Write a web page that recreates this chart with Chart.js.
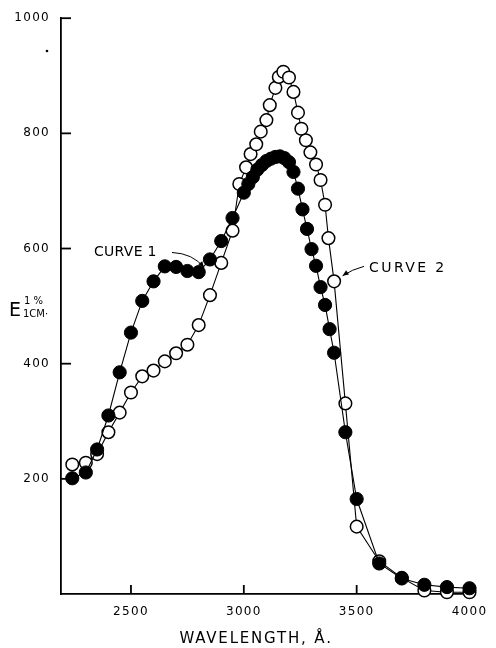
<!DOCTYPE html>
<html><head><meta charset="utf-8">
<script src="https://cdn.jsdelivr.net/npm/chart.js@4/dist/chart.umd.min.js"></script>
<style>html,body{margin:0;padding:0;background:#fff;}canvas{display:block;}</style>
</head><body>
<canvas id="c" width="496" height="648"></canvas>
<script>
// ---- data ----
const curve1Wavelengths = [2240,2300,2350,2400,2450,2500,2550,2600,2650,2700,2750,2800,2850,2900,2950,3000,
  3020,3040,3060,3080,3100,3120,3140,3160,3180,3200,3220,3240,3260,3280,3300,3320,3340,3360,3380,3400,
  3450,3500,3600,3700,3800,3900,4000];
const curve1Values = [201,211,251,310,385,454,509,543,569,568,561,559,581,613,653,697,
  712,724,737,745,752,756,759,760,757,750,733,704,668,634,599,570,533,502,460,419,
  281,165,53,27,16,12,10];
const curve2Wavelengths = [2240,2300,2350,2400,2450,2500,2550,2600,2650,2700,2750,2800,2850,2900,2950,
  2980,3010,3030,3055,3075,3100,3115,3140,3155,3175,3200,3220,3240,3255,3275,3295,3320,3340,3360,3375,3400,
  3450,3500,3600,3700,3800,3900,4000];
const curve2Values = [225,228,243,281,315,350,378,388,404,418,433,467,519,575,631,
  712,741,764,781,803,823,849,879,898,907,897,872,836,808,788,767,746,719,676,618,543,
  331,117,57,28,6,3,3];
const xTickValues = [2500,3000,3500,4000];
const yTickValues = [200,400,600,800,1000];
const xAxisTitle = 'WAVELENGTH, Å.';
const curve1Label = 'CURVE 1';
const curve2Label = 'CURVE 2';
const curve1Anchor = 2850;
const curve2Anchor = 3400;

const toPoints = (xs, ys) => xs.map((v, i) => ({x: v, y: ys[i]}));
const FONT = '"DejaVu Sans", sans-serif';

function arrow(ctx, sx, sy, cx, cy, tx, ty) {
  ctx.beginPath();
  ctx.moveTo(sx, sy);
  ctx.quadraticCurveTo(cx, cy, tx, ty);
  ctx.stroke();
  const ang = Math.atan2(ty - cy, tx - cx);
  const L = 6, W = 2.6;
  ctx.beginPath();
  ctx.moveTo(tx, ty);
  ctx.lineTo(tx - L*Math.cos(ang) + W*Math.sin(ang), ty - L*Math.sin(ang) - W*Math.cos(ang));
  ctx.lineTo(tx - L*Math.cos(ang) - W*Math.sin(ang), ty - L*Math.sin(ang) + W*Math.cos(ang));
  ctx.closePath();
  ctx.fill();
}

function drawTickMarks(chart) {
  const ctx = chart.ctx;
  const xs = chart.scales.x, ys = chart.scales.y;
  const left = ys.right, bottom = xs.top;
  ctx.save();
  ctx.strokeStyle = '#000';
  ctx.lineWidth = 1.8;
  for (const v of yTickValues) {
    const py = ys.getPixelForValue(v);
    ctx.beginPath(); ctx.moveTo(left, py); ctx.lineTo(left + 10, py); ctx.stroke();
  }
  for (const v of xTickValues) {
    const px = xs.getPixelForValue(v);
    ctx.beginPath(); ctx.moveTo(px, bottom); ctx.lineTo(px, bottom - 9); ctx.stroke();
  }
  ctx.restore();
}

const decor = {
  id: 'decor',
  beforeDraw(chart) { chart.ctx.letterSpacing = '1.3px'; },
  beforeDatasetsDraw(chart) { drawTickMarks(chart); },
  afterDraw(chart) {
    const {ctx, scales: {x, y}, chartArea: a} = chart;
    ctx.save();
    ctx.fillStyle = '#000';
    ctx.strokeStyle = '#000';
    ctx.lineWidth = 1;
    ctx.textBaseline = 'alphabetic';
    ctx.textAlign = 'left';
    // y axis title
    ctx.letterSpacing = '0px';
    ctx.font = '19px ' + FONT;
    ctx.fillText('E', 9, 316);
    ctx.font = '10px ' + FONT;
    ctx.fillText('1 %', 24, 304);
    ctx.fillText('1CM·', 23, 317);
    // x axis title
    ctx.letterSpacing = '1.8px';
    ctx.font = '15px ' + FONT;
    ctx.textAlign = 'center';
    ctx.fillText(xAxisTitle, (a.left + a.right) / 2 - 12, 643);
    // curve labels
    ctx.textAlign = 'left';
    ctx.font = '14px ' + FONT;
    ctx.letterSpacing = '0.3px';
    const i1 = curve1Wavelengths.indexOf(curve1Anchor);
    const p1x = x.getPixelForValue(curve1Anchor), p1y = y.getPixelForValue(curve1Values[i1]);
    ctx.fillText(curve1Label, p1x - 116, p1y - 3);
    arrow(ctx, p1x - 38, p1y - 7, p1x - 17, p1y - 6, p1x - 6, p1y + 8);
    const i2 = curve2Wavelengths.indexOf(curve2Anchor);
    const p2x = x.getPixelForValue(curve2Anchor), p2y = y.getPixelForValue(curve2Values[i2]);
    ctx.letterSpacing = '2.4px';
    ctx.fillText(curve2Label, p2x + 35, p2y - 9);
    arrow(ctx, p2x + 30, p2y - 15, p2x + 18, p2y - 12, p2x + 8.5, p2y - 5.5);
    // small speck on the original scan
    ctx.beginPath();
    ctx.arc(a.left - 14, y.getPixelForValue(943), 1.3, 0, Math.PI * 2);
    ctx.fill();
    ctx.restore();
  }
};

new Chart(document.getElementById('c'), {
  type: 'scatter',
  data: {
    datasets: [
      {
        label: curve1Label,
        data: toPoints(curve1Wavelengths, curve1Values),
        showLine: true,
        borderColor: '#000',
        borderWidth: 1.1,
        backgroundColor: '#000',
        pointBackgroundColor: '#000',
        pointBorderColor: '#000',
        pointBorderWidth: 1,
        pointRadius: 6.6,
        pointHoverRadius: 6.6,
        tension: 0,
        clip: false
      },
      {
        label: curve2Label,
        data: toPoints(curve2Wavelengths, curve2Values),
        showLine: true,
        borderColor: '#000',
        borderWidth: 1.1,
        backgroundColor: '#fff',
        pointBackgroundColor: '#fff',
        pointBorderColor: '#000',
        pointBorderWidth: 1.5,
        pointRadius: 6.3,
        pointHoverRadius: 6.3,
        tension: 0,
        clip: false
      }
    ]
  },
  options: {
    responsive: false,
    devicePixelRatio: 1,
    animation: false,
    events: [],
    layout: {padding: {left: 0, top: 17, right: 16, bottom: 0}},
    plugins: {legend: {display: false}, tooltip: {enabled: false}, title: {display: false}},
    scales: {
      x: {
        type: 'linear',
        min: 2190, max: 4025,
        afterBuildTicks: s => { s.ticks = xTickValues.map(v => ({value: v})); },
        afterFit: s => { s.height = 54; },
        grid: {display: false, drawTicks: false},
        border: {display: true, color: '#000', width: 1.8},
        ticks: {color: '#000', font: {family: FONT, size: 12}, padding: 11, maxRotation: 0, autoSkip: false,
          callback: v => String(v)}
      },
      y: {
        type: 'linear',
        min: 0, max: 1000,
        afterBuildTicks: s => { s.ticks = yTickValues.map(v => ({value: v})); },
        afterFit: s => { s.width = 61; },
        grid: {display: false, drawTicks: false},
        border: {display: true, color: '#000', width: 1.8},
        ticks: {color: '#000', font: {family: FONT, size: 12}, padding: 11, autoSkip: false,
          callback: v => String(v)}
      }
    }
  },
  plugins: [decor]
});
</script>
</body></html>
